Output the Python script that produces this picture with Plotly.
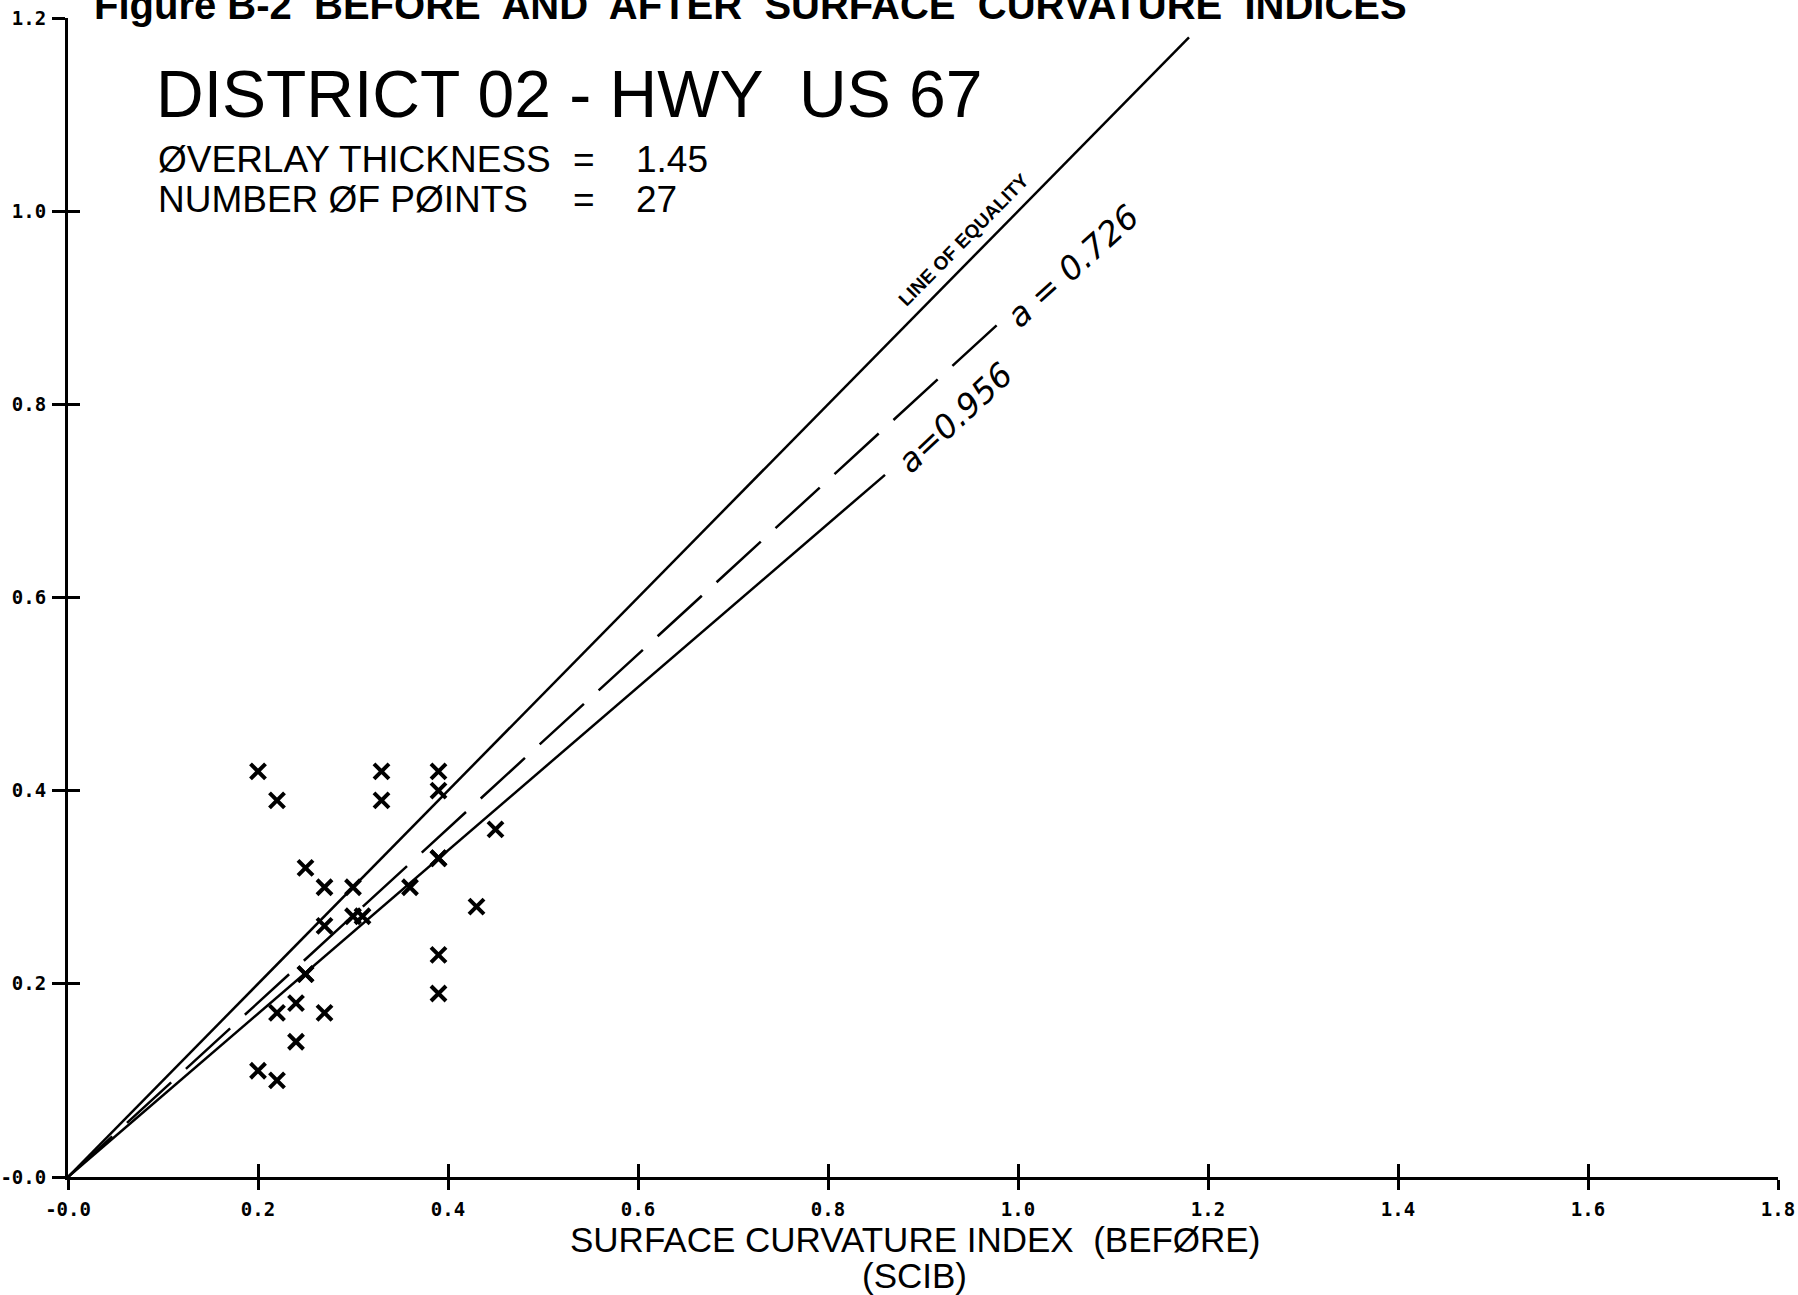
import plotly.graph_objects as go

# ---- data ----
scib_before = [0.20, 0.22, 0.33, 0.33, 0.39, 0.39, 0.45,
               0.25, 0.27, 0.30, 0.36, 0.39, 0.39,
               0.27, 0.30, 0.31, 0.43,
               0.39, 0.39,
               0.25, 0.25,
               0.22, 0.24, 0.27, 0.24, 0.20, 0.22]
scia_after = [0.42, 0.39, 0.42, 0.39, 0.42, 0.40, 0.36,
              0.32, 0.30, 0.30, 0.30, 0.33, 0.33,
              0.26, 0.27, 0.27, 0.28,
              0.23, 0.19,
              0.21, 0.21,
              0.17, 0.18, 0.17, 0.14, 0.11, 0.10]

equality_x = [0.0, 1.18]
equality_y = [0.0, 1.18]
fit_726_x = [0.0, 0.98]
fit_726_y = [0.0, 0.884]
fit_956_x = [0.0, 0.86]
fit_956_y = [0.0, 0.727]

tick_vals_x = [0.0, 0.2, 0.4, 0.6, 0.8, 1.0, 1.2, 1.4, 1.6, 1.8]
tick_text_x = ["-0.0", "0.2", "0.4", "0.6", "0.8", "1.0", "1.2", "1.4", "1.6", "1.8"]
tick_vals_y = [0.0, 0.2, 0.4, 0.6, 0.8, 1.0, 1.2]
tick_text_y = ["-0.0", "0.2", "0.4", "0.6", "0.8", "1.0", "1.2"]

# ---- layout geometry ----
W, H = 1798, 1295
ML, MR, MT, MB = 68, 20, 18, 118
PW, PH = W - ML - MR, H - MT - MB


def px(x):
    return (x - ML) / PW


def py(y):
    return (H - MB - y) / PH


SANS = "Liberation Sans, Arial, sans-serif"
OBL = "DejaVu Sans, sans-serif"

fig = go.Figure()

fig.add_trace(go.Scatter(x=equality_x, y=equality_y, mode="lines",
                         line=dict(color="black", width=2.5), showlegend=False))
fig.add_trace(go.Scatter(x=fit_726_x, y=fit_726_y, mode="lines",
                         line=dict(color="black", width=2.5, dash="60px,20px"), showlegend=False))
fig.add_trace(go.Scatter(x=fit_956_x, y=fit_956_y, mode="lines",
                         line=dict(color="black", width=2.5), showlegend=False))
fig.add_trace(go.Scatter(x=scib_before, y=scia_after, mode="markers",
                         marker=dict(symbol="x-thin-open", size=15, color="black",
                                     line=dict(color="black", width=4)),
                         showlegend=False))
# invisible trace on overlay axes (for crossing ticks)
fig.add_trace(go.Scatter(x=[0], y=[0], xaxis="x2", yaxis="y2", mode="markers",
                         marker=dict(opacity=0), showlegend=False, hoverinfo="skip"))

tickfont = dict(family="DejaVu Sans Mono, monospace", size=19, color="black", weight="bold")

fig.update_layout(
    width=W, height=H,
    margin=dict(l=ML, r=MR, t=MT, b=MB, autoexpand=False),
    paper_bgcolor="white", plot_bgcolor="white",
    xaxis=dict(range=[0, 1.8], showgrid=False, zeroline=False,
               showline=True, linecolor="black", linewidth=3,
               ticks="outside", ticklen=10, tickwidth=2.5, tickcolor="black",
               tickvals=tick_vals_x, ticktext=tick_text_x, tickfont=tickfont,
               ticklabelstandoff=3),
    yaxis=dict(range=[0, 1.2], showgrid=False, zeroline=False,
               showline=True, linecolor="black", linewidth=3,
               ticks="outside", ticklen=13, tickwidth=2.5, tickcolor="black",
               tickvals=tick_vals_y, ticktext=tick_text_y, tickfont=tickfont,
               ticklabelstandoff=2),
    xaxis2=dict(range=[0, 1.8], overlaying="x", anchor="y", side="bottom",
                showgrid=False, zeroline=False, showline=False,
                ticks="inside", ticklen=13, tickwidth=2.5, tickcolor="black",
                tickvals=tick_vals_x, showticklabels=False),
    yaxis2=dict(range=[0, 1.2], overlaying="y", anchor="x", side="left",
                showgrid=False, zeroline=False, showline=False,
                ticks="inside", ticklen=12, tickwidth=2.5, tickcolor="black",
                tickvals=tick_vals_y, showticklabels=False),
)

ann = []


def text_px(txt, x, y, size, family=SANS, xanchor="left", weight="normal", angle=0):
    ann.append(dict(text=txt, x=px(x), y=py(y), xref="paper", yref="paper",
                    xanchor=xanchor, yanchor="middle", showarrow=False,
                    textangle=angle,
                    font=dict(family=family, size=size, color="black", weight=weight)))


# figure caption (cut off at top of the page)
text_px("Figure B-2  BEFORE  AND  AFTER  SURFACE  CURVATURE  INDICES",
        92, 19 - 0.3465 * 40, 40, weight="bold")
# panel title
text_px("DISTRICT 02 - HWY  US 67", 154, 117 - 0.3465 * 66, 66)
text_px("ØVERLAY THICKNESS", 156, 172 - 0.3465 * 37, 37)
text_px("=", 571, 172 - 0.3465 * 37, 37)
text_px("1.45", 634, 172 - 0.3465 * 37, 37)
text_px("NUMBER ØF PØINTS", 156, 212 - 0.3465 * 37, 37)
text_px("=", 571, 212 - 0.3465 * 37, 37)
text_px("27", 634, 212 - 0.3465 * 37, 37)
# axis title
text_px("SURFACE CURVATURE INDEX  (BEFØRE)", 915, 1252 - 0.3465 * 35, 35, xanchor="center")
text_px("(SCIB)", 914, 1288 - 0.3465 * 35, 35, xanchor="center")

# line labels (data coordinates)
ann.append(dict(text="LINE OF EQUALITY", x=0.943, y=0.971, xref="x", yref="y",
                showarrow=False, textangle=-45.5, xanchor="center", yanchor="middle",
                font=dict(family=SANS, size=19, color="black", weight="bold")))
ann.append(dict(text="<i>a = 0.726</i>", x=1.057, y=0.943, xref="x", yref="y",
                showarrow=False, textangle=-42, xanchor="center", yanchor="middle",
                font=dict(family=OBL, size=33, color="black")))
ann.append(dict(text="<i>a=0.956</i>", x=0.934, y=0.786, xref="x", yref="y",
                showarrow=False, textangle=-43, xanchor="center", yanchor="middle",
                font=dict(family=OBL, size=33, color="black")))

fig.update_layout(annotations=ann)

fig.write_html("out.html")
